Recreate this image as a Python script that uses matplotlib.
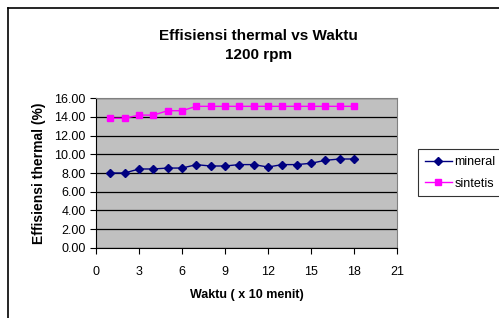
import matplotlib
matplotlib.use("Agg")
import matplotlib.pyplot as plt
from matplotlib.lines import Line2D

plt.rcParams["font.family"] = ["Liberation Sans", "DejaVu Sans"]

waktu = list(range(1, 19))
mineral = [8.0, 8.0, 8.43, 8.43, 8.53, 8.53, 8.89, 8.75, 8.75,
           8.9, 8.9, 8.64, 8.9, 8.9, 9.04, 9.36, 9.5, 9.5]
sintetis = [13.86, 13.86, 14.2, 14.2, 14.67, 14.67, 15.14, 15.14, 15.14,
            15.14, 15.14, 15.14, 15.14, 15.14, 15.14, 15.14, 15.14, 15.14]
xticks = list(range(0, 22, 3))
yticks = [0, 2, 4, 6, 8, 10, 12, 14, 16]

W, H = 499, 318
fig = plt.figure(figsize=(W / 100, H / 100), dpi=100)
fig.patch.set_facecolor("white")

ax = fig.add_axes([96 / W, 1 - 247.7 / H, 301 / W, (247.7 - 98.3) / H])
ax.set_facecolor("#c0c0c0")

ax.plot(waktu, mineral, color="#000080", marker="D", ms=4, lw=1,
        label="mineral")
ax.plot(waktu, sintetis, color="#ff00ff", marker="s", ms=4.5, lw=1,
        label="sintetis")

ax.set_xlim(0, 21)
ax.set_ylim(0, 16)
ax.set_xticks(xticks)
ax.set_yticks(yticks)
ax.set_yticklabels([f"{v:.2f}" for v in yticks])
ax.yaxis.grid(True, color="black", lw=0.9)
ax.set_axisbelow(True)
ax.tick_params(direction="out", length=4, width=0.8, labelsize=9,
               colors="black")
ax.tick_params(axis="x", pad=9)
for side in ("top", "right"):
    ax.spines[side].set_color("#808080")
for side in ("left", "bottom"):
    ax.spines[side].set_color("black")

ax.set_xlabel("Waktu ( x 10 menit)", fontsize=9, fontweight="bold",
              labelpad=8)
ax.set_ylabel("Effisiensi thermal (%)", fontsize=10, fontweight="bold",
              labelpad=6)

fig.text(258.5 / W, 1 - 36.5 / H, "Effisiensi thermal vs Waktu",
         ha="center", va="center", fontsize=11, fontweight="bold")
fig.text(258.5 / W, 1 - 55 / H, "1200 rpm",
         ha="center", va="center", fontsize=11, fontweight="bold")

leg = fig.legend(loc="upper left", bbox_to_anchor=(417.7 / W, 1 - 149.3 / H),
                 fontsize=9, frameon=True, fancybox=False, handlelength=2.2,
                 handletextpad=0.2, borderpad=0.55, borderaxespad=0,
                 labelspacing=0.75)
leg.get_frame().set_edgecolor("black")
leg.get_frame().set_linewidth(0.8)

# outer chart frame (left and top edges visible)
fig.add_artist(Line2D([8 / W, 8 / W], [0, 1 - 8 / H], color="black", lw=1.2,
                      transform=fig.transFigure))
fig.add_artist(Line2D([8 / W, 1], [1 - 8 / H, 1 - 8 / H], color="black",
                      lw=1.2, transform=fig.transFigure))

fig.savefig("out.png", dpi=100, facecolor="white")
